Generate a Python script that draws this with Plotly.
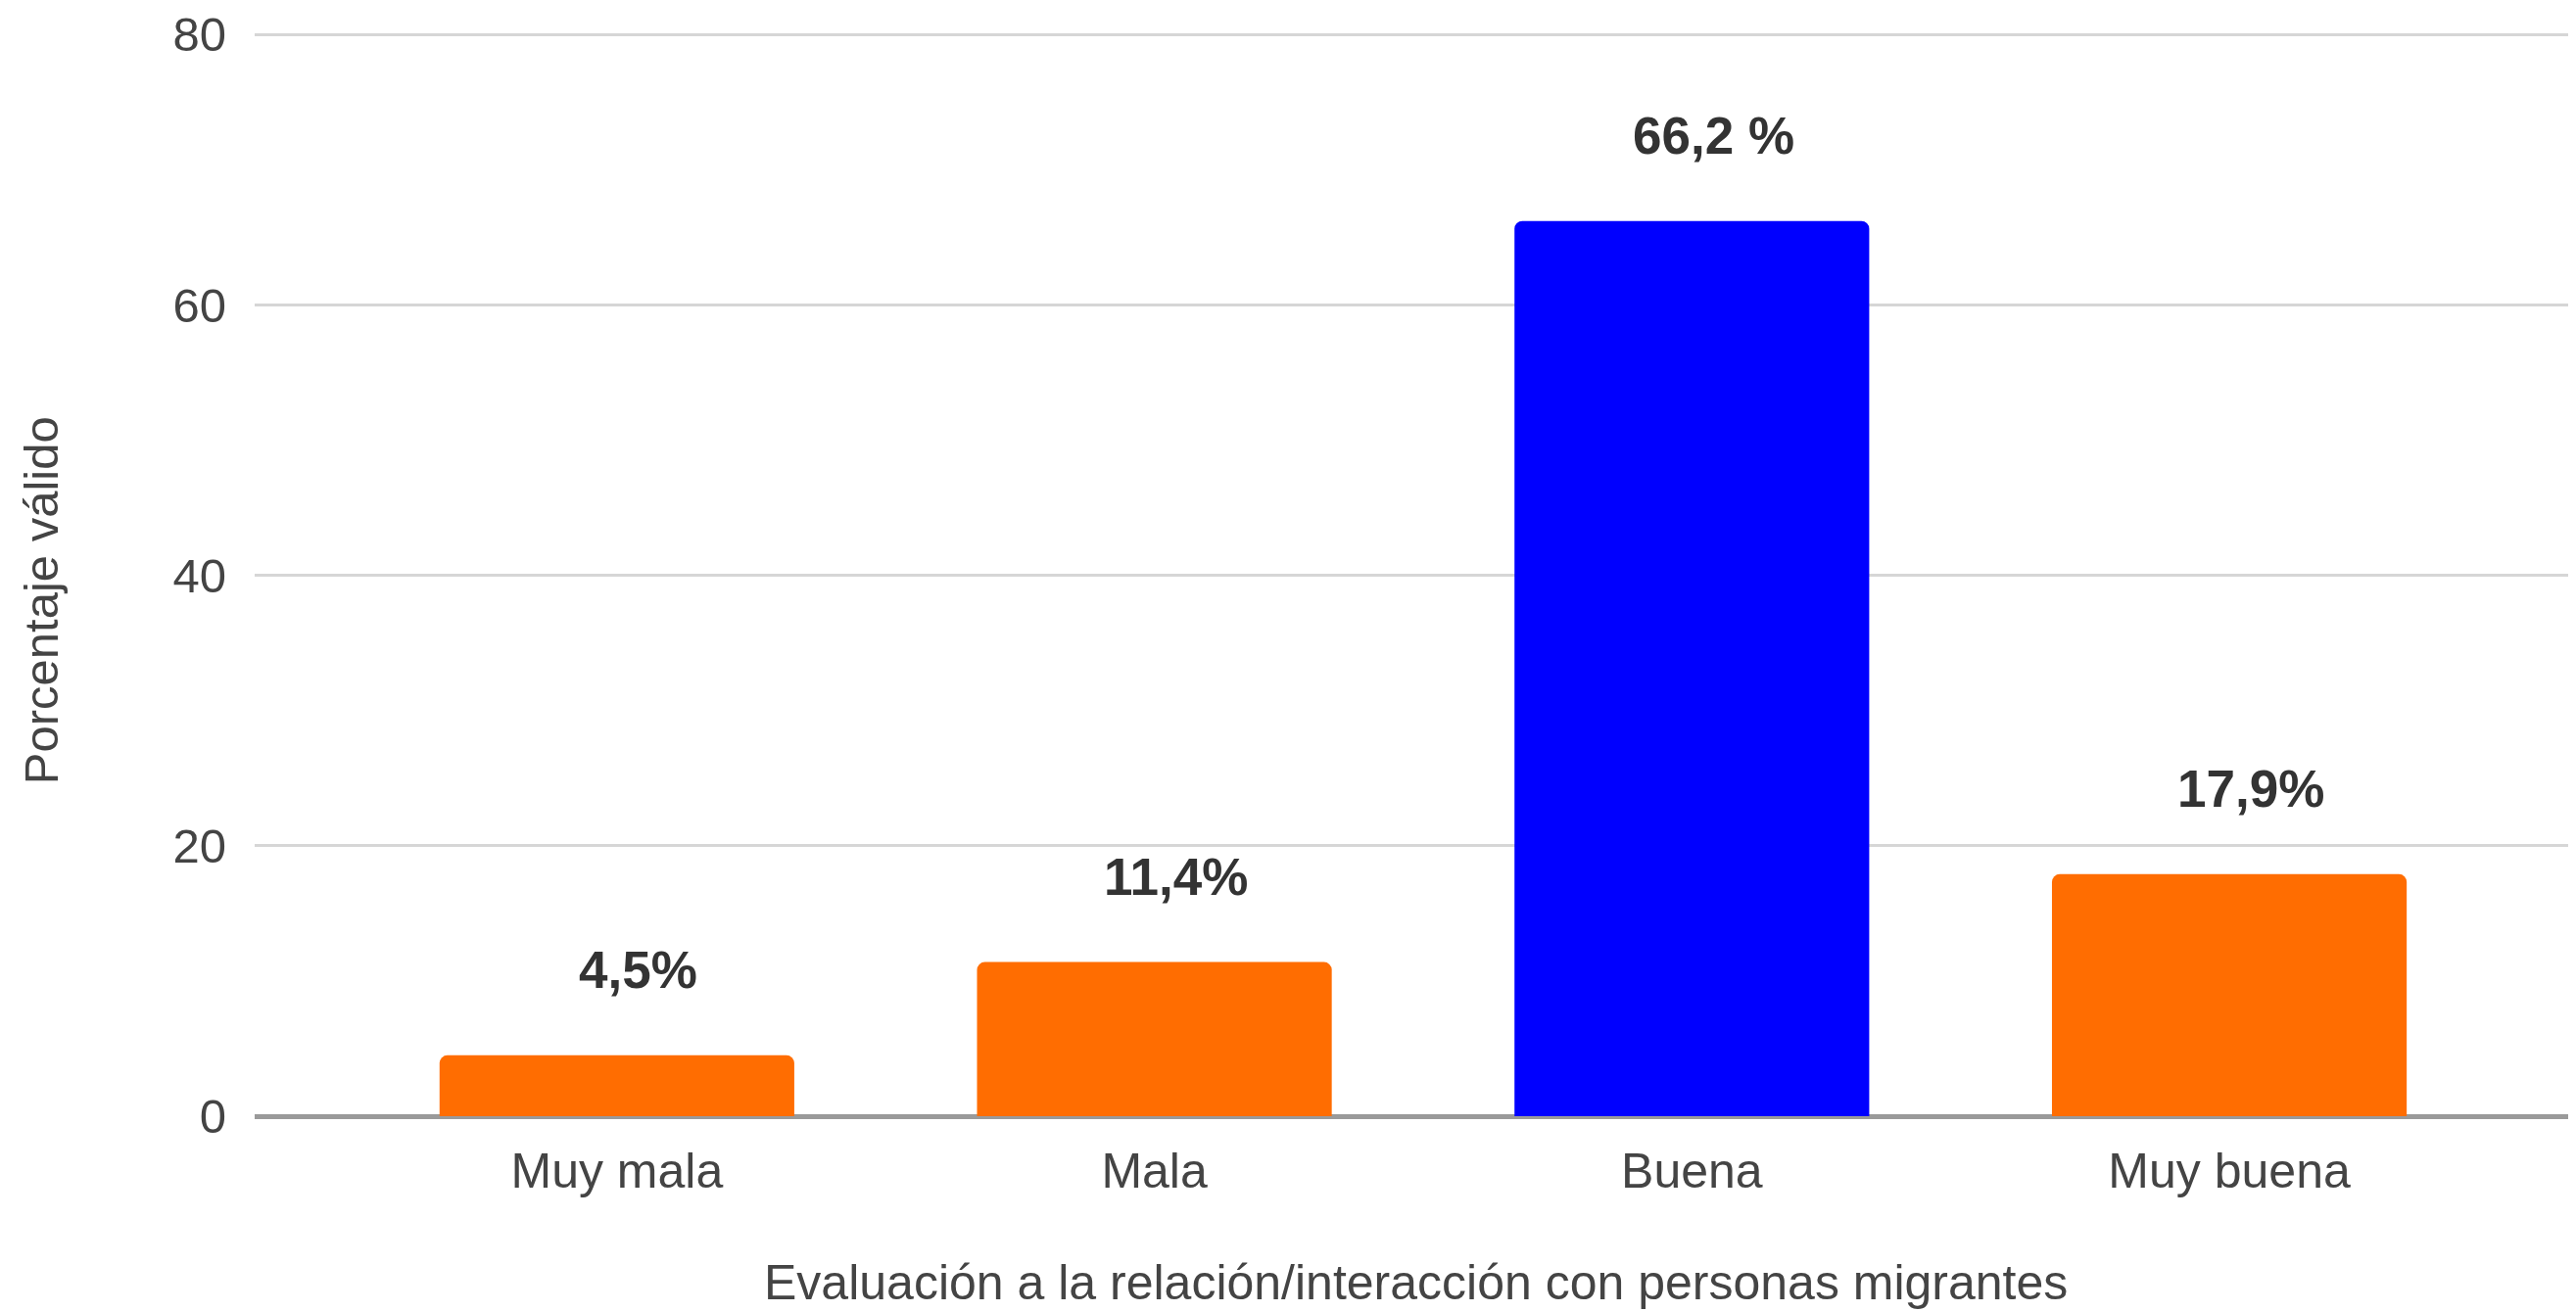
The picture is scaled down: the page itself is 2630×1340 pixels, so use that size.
import plotly.graph_objects as go

categories = ["Muy mala", "Mala", "Buena", "Muy buena"]
values = [4.5, 11.4, 66.2, 17.9]
value_labels = ["4,5%", "11,4%", "66,2 %", "17,9%"]
bar_colors = ["#FF6D01", "#FF6D01", "#0000FF", "#FF6D01"]
y_ticks = [0, 20, 40, 60, 80]

FONT = "Liberation Sans, Arial, sans-serif"

fig = go.Figure()
fig.add_trace(go.Bar(
    x=categories,
    y=values,
    marker=dict(color=bar_colors, line=dict(width=0)),
    hoverinfo="x+y",
))

for cat, val, lab in zip(categories, values, value_labels):
    fig.add_annotation(
        x=cat, y=val, xref="x", yref="y",
        text=lab, showarrow=False,
        yshift=87, xshift=22, yanchor="middle",
        font=dict(family=FONT, size=53, color="#333333", weight="bold"),
    )

fig.add_annotation(
    x=0.5, y=-0.153, xref="paper", yref="paper",
    text="Evaluación a la relación/interacción con personas migrantes",
    showarrow=False, yanchor="middle", xanchor="center",
    font=dict(family=FONT, size=50, color="#444444"),
)
fig.add_annotation(
    x=-0.092, y=0.475, xref="paper", yref="paper",
    text="Porcentaje válido", textangle=-90,
    showarrow=False, yanchor="middle", xanchor="center",
    font=dict(family=FONT, size=49, color="#444444"),
)

fig.update_layout(
    width=2622, height=1332,
    margin=dict(l=252, r=0, t=21, b=200, pad=0),
    paper_bgcolor="white", plot_bgcolor="white",
    bargap=0.34,
    barcornerradius=8,
    showlegend=False,
    font=dict(family=FONT, size=49, color="#444444"),
)
fig.update_xaxes(
    range=[-0.674, 3.645],
    showgrid=False, showline=False, ticks="",
    tickfont=dict(family=FONT, size=50, color="#444444"),
    ticklabelstandoff=22,
    fixedrange=True,
)
fig.update_yaxes(
    range=[0, 80.3],
    tickvals=y_ticks,
    ticktext=[str(v) for v in y_ticks],
    showgrid=True, gridcolor="#d6d6d6", gridwidth=3,
    zeroline=True, zerolinecolor="#9a9a9a", zerolinewidth=5,
    showline=False, ticks="",
    tickfont=dict(family=FONT, size=49, color="#444444"),
    ticklabelstandoff=28,
    ticklabeloverflow="allow",
    fixedrange=True,
)

fig.write_html("out.html")
